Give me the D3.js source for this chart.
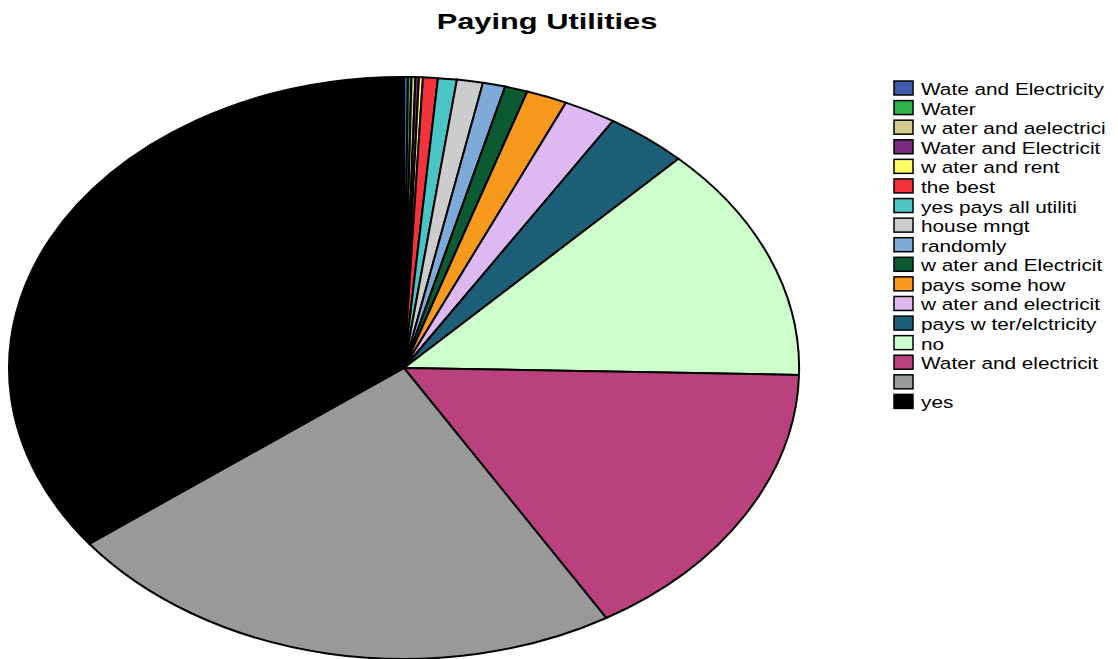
<!DOCTYPE html>
<html>
<head>
<meta charset="utf-8">
<script src="https://cdn.jsdelivr.net/npm/d3@7"></script>
<style>
  body { margin: 0; background: #fff; }
  text { font-family: "Liberation Sans", Arial, sans-serif; }
</style>
</head>
<body>
<svg width="1118" height="659"></svg>
<script>
// data, in the order the slices run clockwise from 12 o'clock
var labels = ["Wate and Electricity", "Water", "w ater and aelectrici", "Water and Electricit",
              "w ater and rent", "the best", "yes pays all utiliti", "house mngt", "randomly",
              "w ater and Electricit", "pays some how", "w ater and electricit",
              "pays w ter/elctricity", "no", "Water and electricit", "", "yes"];
var counts = [1, 1, 1, 1, 1, 4, 5, 7, 6, 6, 11, 14, 22, 86, 105, 152, 231];
var colors = ["#3F5BA9", "#2DB34A", "#D3CB8F", "#7A2B7F", "#FFFF66", "#F2333C", "#4BC4C6",
              "#CCCCCC", "#7EAAD9", "#0B5A31", "#F7991D", "#DEB9F1", "#1C5F77", "#CCFFCC",
              "#BB417E", "#999999", "#000000"];

var svg = d3.select("svg");

var data = labels.map(function(d, i) { return { label: d, value: counts[i], color: colors[i] }; });

// the pie is a circle squashed into an ellipse
var cx = 404, cy = 368, rx = 395, ry = 291;

var pie = d3.pie().sort(null).value(function(d) { return d.value; });
var arc = d3.arc().innerRadius(0).outerRadius(1);

var g = svg.append("g")
    .attr("transform", "translate(" + cx + "," + cy + ") scale(" + rx + "," + ry + ")");

g.selectAll("path")
  .data(pie(data))
  .enter().append("path")
  .attr("d", arc)
  .attr("fill", function(d) { return d.data.color; })
  .attr("stroke", "#000")
  .attr("stroke-width", 2)
  .attr("stroke-linejoin", "round")
  .attr("vector-effect", "non-scaling-stroke");

// title (the original text is stretched sideways)
svg.append("text")
   .attr("transform", "translate(547,29) scale(1.4,1)")
   .attr("text-anchor", "middle")
   .style("font-size", "22px")
   .style("font-weight", "bold")
   .text("Paying Utilities");

// legend
var y = d3.scaleBand().domain(d3.range(labels.length)).range([78, 411]);

var leg = svg.append("g").selectAll("g")
    .data(data)
    .enter().append("g")
    .attr("transform", function(d, i) { return "translate(894," + (y(i) + 3) + ")"; });

leg.append("rect")
   .attr("width", 19)
   .attr("height", 14)
   .attr("fill", function(d) { return d.color; })
   .attr("stroke", "#000")
   .attr("stroke-width", 1.5);

leg.append("text")
   .attr("transform", "translate(27,14) scale(1.26,1)")
   .style("font-size", "16.5px")
   .text(function(d) { return d.label; });
</script>
</body>
</html>
